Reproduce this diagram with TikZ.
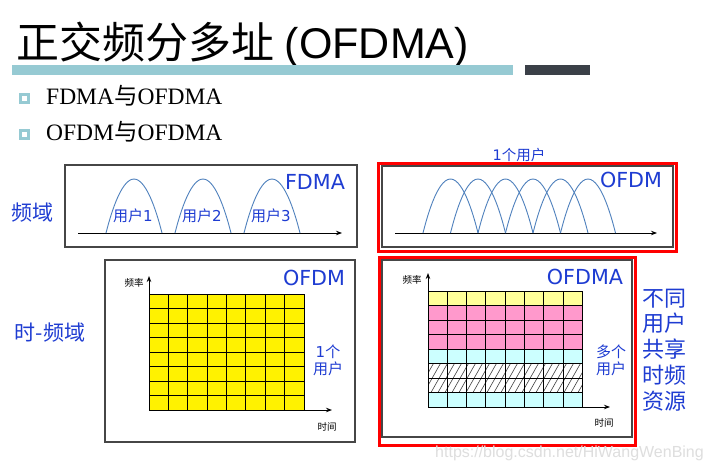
\documentclass[tikz,border=0pt]{standalone}
\usepackage{fontspec}
\setmainfont{Liberation Serif}
\newfontfamily\cjk{Noto Sans CJK SC}
\newfontfamily\dvs{DejaVu Sans}
\newfontfamily\ars{Liberation Sans}
\usetikzlibrary{arrows.meta}
\definecolor{lblue}{RGB}{30,60,210}
\definecolor{hblue}{RGB}{79,129,189}
\definecolor{teal}{RGB}{150,202,211}
\definecolor{darkbar}{RGB}{59,64,72}
\definecolor{boxgray}{RGB}{70,70,70}
\definecolor{lyellow}{RGB}{255,255,153}
\definecolor{lpink}{RGB}{255,153,204}
\definecolor{lcyan}{RGB}{204,255,255}
\tikzset{
  lbl/.style={text=lblue, inner sep=0pt},
  big/.style={lbl, font=\dvs\fontsize{20.7}{24}\selectfont},
  mid/.style={lbl, align=center, font=\cjk\fontsize{15}{17}\selectfont},
  tiny/.style={inner sep=0pt, font=\cjk\fontsize{9.5}{10}\selectfont},
  hump/.style={draw=hblue, line width=0.9pt},
  axis/.style={-{Stealth[length=6pt,width=4.5pt]}, line width=0.9pt},
  box/.style={draw=boxgray, line width=1.5pt},
  redbox/.style={draw=red, line width=3pt},
  cellline/.style={draw=black, line width=0.9pt},
  bulletbox/.style={draw=teal, line width=2.8pt, minimum size=8.5pt, inner sep=0pt},
  bullettext/.style={anchor=base west, inner sep=0pt, font=\fontsize{23.5}{26}\selectfont}
}
\begin{document}
\begin{tikzpicture}[x=1pt,y=-1pt]
\useasboundingbox (0,0) rectangle (711,471);
\fill[white] (0,0) rectangle (711,471);

% title
\node[anchor=base west, inner sep=0pt, font=\fontsize{43}{46}\selectfont] (title) at (16,58)
  {{\cjk 正交频分多址} {\ars (OFDMA)}};
\fill[teal] (12,65) rectangle (513,75);
\fill[darkbar] (525,65) rectangle (590,75);

% bullets
\node[bulletbox] (b1) at (24.5,98.5) {};
\node[bullettext] (t1) at (46,104) {FDMA{\cjk 与}OFDMA};
\node[bulletbox] (b2) at (24.5,134.5) {};
\node[bullettext] (t2) at (46,140) {OFDM{\cjk 与}OFDMA};

% left labels
\node[lbl, font=\cjk\fontsize{21}{23}\selectfont] (fy) at (33,213) {频域};
\node[lbl, font=\cjk\fontsize{21}{23}\selectfont] (sfy) at (50,333) {时-频域};

% ---------- top-left FDMA box
\draw[box] (65,165) rectangle (357,247);
\coordinate (a1s) at (78,233);
\coordinate (a1e) at (342,233);
\draw[axis] (a1s) -- (a1e);
\foreach \c in {134,203,272}{
  \draw[hump] ({\c-28},233) parabola bend (\c,179) ({\c+28},233);
}
\node[lbl, font=\cjk\fontsize{15}{17}\selectfont] (u1) at (133,216) {用户{\dvs 1}};
\node[lbl, font=\cjk\fontsize{15}{17}\selectfont] (u2) at (202,216) {用户{\dvs 2}};
\node[lbl, font=\cjk\fontsize{15}{17}\selectfont] (u3) at (271,216) {用户{\dvs 3}};
\node[big] (fdma) at (315,182) {FDMA};

% ---------- top-right OFDM box
\draw[redbox] (378,163) rectangle (676,251);
\draw[draw=boxgray, line width=1.2pt] (382,166) rectangle (673,247);
\coordinate (a2s) at (395,233);
\coordinate (a2e) at (657,233);
\draw[axis] (a2s) -- (a2e);
\foreach \i in {0,...,5}{
  \draw[hump] ({423+\i*27.5},233) parabola bend ({450.5+\i*27.5},179) ({478+\i*27.5},233);
}
\node[big] (ofdm1) at (631,180) {OFDM};
\node[lbl, font=\cjk\fontsize{14.5}{16}\selectfont] (one) at (519,155) {{\dvs 1}个用户};

% ---------- bottom-left OFDM grid
\draw[box] (105,260) rectangle (355,442);
\fill[yellow] (149,294) rectangle (304,410);
\foreach \i in {0,...,8}{
  \draw[cellline] ({149+\i*19.375},294) -- ({149+\i*19.375},410);
  \draw[cellline] (149,{294+\i*14.5}) -- (304,{294+\i*14.5});
}
\coordinate (o1) at (149,410);
\coordinate (y1) at (149,276);
\coordinate (x1) at (332,410);
\draw[axis] (o1) -- (y1);
\draw[axis] (o1) -- (x1);
\node[tiny] (fl1) at (134,283) {频率};
\node[tiny] (tl1) at (327,427) {时间};
\node[big] (ofdm2) at (314,278) {OFDM};
\node[mid] (one2) at (328,360) {{\dvs 1}个\\用户};

% ---------- bottom-right OFDMA grid
\draw[redbox] (379,257) rectangle (635,445);
\draw[draw=boxgray, line width=1.2pt] (382,260) rectangle (632,437);
\fill[lyellow] (428,291) rectangle (582.3,305.5);
\fill[lpink] (428,305.5) rectangle (582.3,349);
\fill[lcyan] (428,349) rectangle (582.3,363.5);
\fill[white] (428,363.5) rectangle (582.3,392.5);
\fill[lcyan] (428,392.5) rectangle (582.3,407);
\begin{scope}
  \clip (428,363.5) rectangle (582.3,392.5);
  \foreach \k in {0,...,30}{
    \draw[draw=black!75, line width=0.6pt] ({410+\k*7},392.5) -- ++(17,-30);
  }
\end{scope}
\foreach \i in {0,...,8}{
  \draw[cellline] ({428+\i*19.2875},291) -- ({428+\i*19.2875},407);
  \draw[cellline] (428,{291+\i*14.5}) -- (582.3,{291+\i*14.5});
}
\coordinate (o2) at (428,407);
\coordinate (y2) at (428,273);
\coordinate (x2) at (610,407);
\draw[axis] (o2) -- (y2);
\draw[axis] (o2) -- (x2);
\node[tiny] (fl2) at (412,280) {频率};
\node[tiny] (tl2) at (604,423) {时间};
\node[big] (ofdma) at (585,277) {OFDMA};
\node[mid] (many) at (611,360) {多个\\用户};

% right side text
\node[lbl, align=center, font=\cjk\fontsize{22}{25.8}\selectfont] (share) at (664,350)
  {不同\\用户\\共享\\时频\\资源};

% watermark
\node[anchor=west, inner sep=0pt, text=black!13, font=\ars\fontsize{16}{18}\selectfont] (wm) at (435,453)
  {https://blog.csdn.net/HiWangWenBing};
\end{tikzpicture}
\end{document}
